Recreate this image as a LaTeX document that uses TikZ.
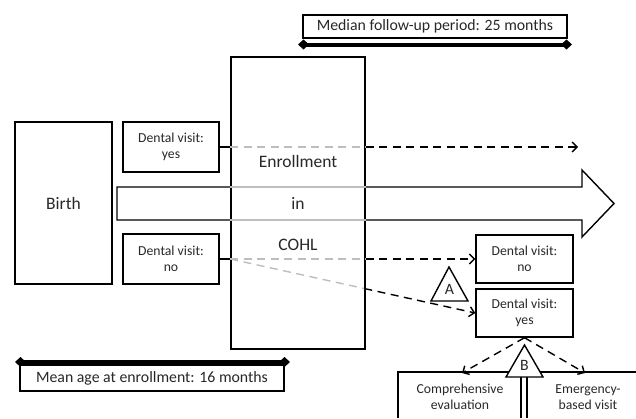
\documentclass[tikz,border=0pt]{standalone}
\usepackage{fontspec}
\setmainfont{Carlito}
\usetikzlibrary{arrows.meta,calc}
\definecolor{lgray}{RGB}{190,190,190}
\definecolor{txt}{RGB}{40,40,40}
\begin{document}
\begin{tikzpicture}[x=1pt,y=-1pt,
  every node/.style={text=txt},
  box/.style={draw,line width=1.4pt,fill=white,inner sep=0pt,align=center},
  bigtxt/.style={font=\fontsize{17.5}{20}\selectfont},
  medtxt/.style={font=\fontsize{15.8}{18}\selectfont},
  smalltxt/.style={font=\fontsize{13.7}{16.5}\selectfont},
  dsh/.style={line width=1.4pt,dash pattern=on 8pt off 5.5pt},
  blk/.style={dsh,-{Straight Barb[length=5pt,width=10pt]}},
  gry/.style={dsh,draw=lgray},
  bar/.style={line width=4pt,{Diamond[length=11pt,width=10pt]}-{Diamond[length=11pt,width=10pt]}},
  tri/.style={draw,line width=1.4pt,fill=white,line join=miter}
]
\useasboundingbox (0,0) rectangle (636,418);

% big arrow
\draw[line width=1.4pt,line join=miter] (117,187) -- (582,187) -- (582,170) -- (614,203.5) -- (582,237) -- (582,220) -- (117,220) -- cycle;

% enrollment box
\node[box,minimum width=134pt,minimum height=292pt] (enroll) at (298,203) {};
\draw[lgray,line width=1.4pt] (enroll.west |- 0,187) -- (enroll.east |- 0,187);
\draw[lgray,line width=1.4pt] (enroll.west |- 0,220) -- (enroll.east |- 0,220);
\node[bigtxt] (tEnroll) at (298,161) {Enrollment};
\node[bigtxt] (tIn) at (298,203) {in};
\node[bigtxt] (tCohl) at (298,245) {COHL};

% left boxes
\node[box,bigtxt,minimum width=97pt,minimum height=162pt] (birth) at (63.5,203) {Birth};
\node[box,smalltxt,minimum width=96pt,minimum height=50pt] (dvyesL) at (171,147) {Dental visit:\\yes};
\node[box,smalltxt,minimum width=96pt,minimum height=50pt] (dvnoL) at (171,259) {Dental visit:\\no};

% right boxes
\node[box,smalltxt,minimum width=97pt,minimum height=48pt] (dvnoR) at (524.5,259) {Dental visit:\\no};
\node[box,smalltxt,minimum width=97pt,minimum height=48pt] (dvyesR) at (524.5,313) {Dental visit:\\yes};

% upper dashed path
\coordinate (yesEnd) at (578,147);
\draw[line width=1.4pt] (dvyesL.east) -- (dvyesL.east -| enroll.west) coordinate (y1);
\draw[gry] (y1) -- (dvyesL.east -| enroll.east) coordinate (y2);
\draw[blk] (y2) -- (yesEnd);

% lower dashed paths
\draw[line width=1.4pt] (dvnoL.east) -- (dvnoL.east -| enroll.west) coordinate (n1);
\draw[gry] (n1) -- (dvnoL.east -| enroll.east) coordinate (n2);
\draw[blk] (n2) -- (dvnoR.west);
\coordinate (n3) at ($(n1)!0.547!(dvyesR.west)$);
\draw[gry] (n1) -- (n3);
\draw[blk] (n3) -- (dvyesR.west);

% triangle A
\draw[tri] (449,267) coordinate (aTop) -- (468,301) -- (431,301) -- cycle;
\node[medtxt] (labA) at (449.5,289) {A};

% bottom boxes
\coordinate (cL) at (398,418);
\draw[line width=1.4pt] (cL) -- (398,372) -- (636,372);
\draw[line width=1.4pt] (521,377) -- (521,418);
\draw[line width=1.4pt] (527,377) -- (527,418);
\node[smalltxt,align=center] (comp) at (460,397) {Comprehensive\\evaluation};
\node[smalltxt,align=center] (emerg) at (588,397) {Emergency-\\based visit};

% dashed to bottom
\coordinate (compTop) at (462,373);
\coordinate (emergTop) at (585,373);
\draw[blk] (dvyesR.south) -- (compTop);
\draw[blk] (dvyesR.south) -- (emergTop);

% triangle B
\draw[tri] (524.5,345) coordinate (bTop) -- (543,377) -- (506,377) -- cycle;
\node[medtxt] (labB) at (524.5,365) {B};

% top label and bar
\node[box,medtxt,minimum width=264pt,minimum height=23pt] (median) at (435,26.5) {Median follow-up period: 25 months};
\draw[bar] (298,44.5) coordinate (m1) -- (572,44.5) coordinate (m2);

% bottom label and bar
\draw[bar] (15,362) coordinate (e1) -- (290,362) coordinate (e2);
\node[box,medtxt,minimum width=264pt,minimum height=26pt] (mean) at (152,378) {Mean age at enrollment: 16 months};
\end{tikzpicture}
\end{document}
